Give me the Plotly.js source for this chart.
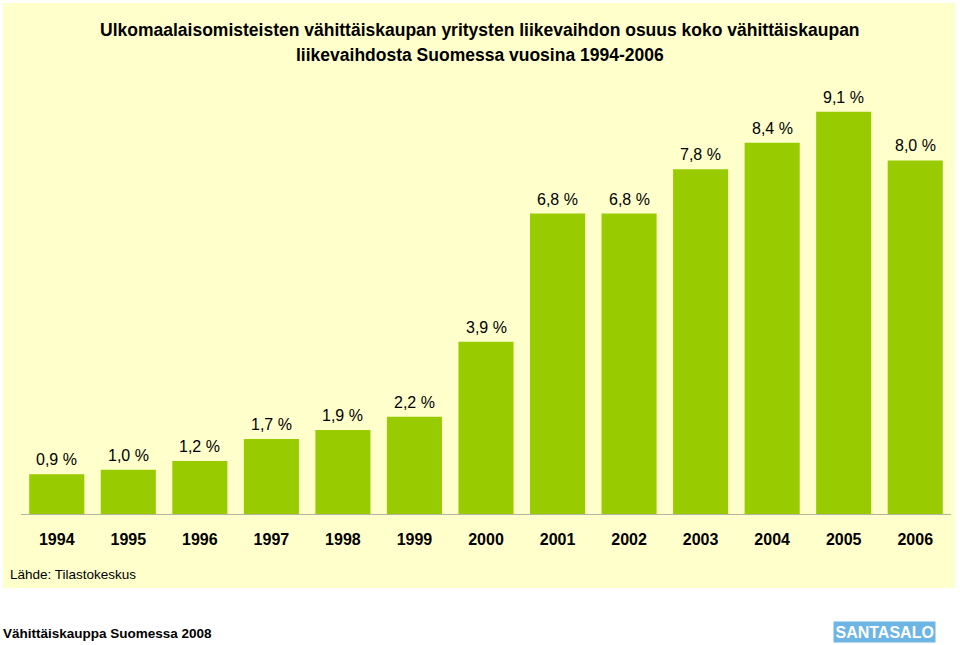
<!DOCTYPE html>
<html>
<head>
<meta charset="utf-8">
<script src="https://cdn.plot.ly/plotly-3.0.1.min.js"></script>
<style>
html,body{margin:0;padding:0;background:#ffffff;}
#chart{width:960px;height:645px;}
</style>
</head>
<body>
<div id="chart"></div>
<script>
const years = ["1994","1995","1996","1997","1998","1999","2000","2001","2002","2003","2004","2005","2006"];
const shares = [0.9, 1.0, 1.2, 1.7, 1.9, 2.2, 3.9, 6.8, 6.8, 7.8, 8.4, 9.1, 8.0];
const valueLabels = ["0,9 %","1,0 %","1,2 %","1,7 %","1,9 %","2,2 %","3,9 %","6,8 %","6,8 %","7,8 %","8,4 %","9,1 %","8,0 %"];
const titleLine1 = "Ulkomaalaisomisteisten vähittäiskaupan yritysten liikevaihdon osuus koko vähittäiskaupan";
const titleLine2 = "liikevaihdosta Suomessa vuosina 1994-2006";
const sourceText = "Lähde: Tilastokeskus";
const footerText = "Vähittäiskauppa Suomessa 2008";
const logoText = "SANTASALO";

const FONT = "Liberation Sans, Arial, Helvetica, sans-serif";

const trace = {
  type: "bar",
  x: years,
  y: shares,
  marker: {color: "#99CC00", line: {width: 0}},
  hoverinfo: "skip"
};

const valueAnnotations = years.map((yr, i) => ({
  x: i, y: shares[i], xref: "x", yref: "y",
  text: valueLabels[i], showarrow: false,
  yanchor: "bottom", yshift: 4,
  font: {family: FONT, size: 16, color: "#000000"}
}));

const layout = {
  width: 960, height: 645,
  margin: {l: 21, r: 9, t: 50, b: 131},
  paper_bgcolor: "#ffffff",
  plot_bgcolor: "rgba(0,0,0,0)",
  bargap: 0.23,
  showlegend: false,
  xaxis: {
    type: "category",
    showline: true, linecolor: "#b4b4a0", linewidth: 1,
    ticks: "", showgrid: false, zeroline: false,
    ticklabelstandoff: 11,
    tickfont: {family: FONT, size: 16, color: "#000000", weight: "bold"}
  },
  yaxis: {
    range: [0, 10.5], visible: false, showgrid: false, zeroline: false
  },
  shapes: [{
    type: "rect", xref: "paper", yref: "paper", layer: "below",
    x0: -0.0194, x1: 1.0043, y0: -0.1595, y1: 1.1013,
    fillcolor: "#FFFFCC", line: {width: 0}
  }],
  annotations: valueAnnotations.concat([
    {
      text: "<b>" + titleLine1 + "</b>", xref: "paper", yref: "paper",
      x: 0.4935, y: 1.0431, xanchor: "center", yanchor: "middle",
      showarrow: false,
      font: {family: FONT, size: 17.5, color: "#000000"}
    },
    {
      text: "<b>" + titleLine2 + "</b>", xref: "paper", yref: "paper",
      x: 0.4935, y: 0.9892, xanchor: "center", yanchor: "middle",
      showarrow: false,
      font: {family: FONT, size: 17.5, color: "#000000"}
    },
    {
      text: sourceText, xref: "paper", yref: "paper",
      x: -0.0140, y: -0.130, xanchor: "left", yanchor: "middle",
      showarrow: false,
      font: {family: FONT, size: 13.5, color: "#000000"}
    },
    {
      text: "<b>" + footerText + "</b>", xref: "paper", yref: "paper",
      x: -0.0215, y: -0.2565, xanchor: "left", yanchor: "middle",
      showarrow: false,
      font: {family: FONT, size: 13.5, color: "#000000"}
    },
    {
      text: "<b>" + logoText + "</b>", xref: "paper", yref: "paper",
      x: 0.929, y: -0.2543, xanchor: "center", yanchor: "middle",
      showarrow: false, bgcolor: "#6DB5E5", borderpad: 1.5,
      font: {family: FONT, size: 16, color: "#ffffff"}
    }
  ])
};

Plotly.newPlot("chart", [trace], layout, {displayModeBar: false, staticPlot: true});
</script>
</body>
</html>
